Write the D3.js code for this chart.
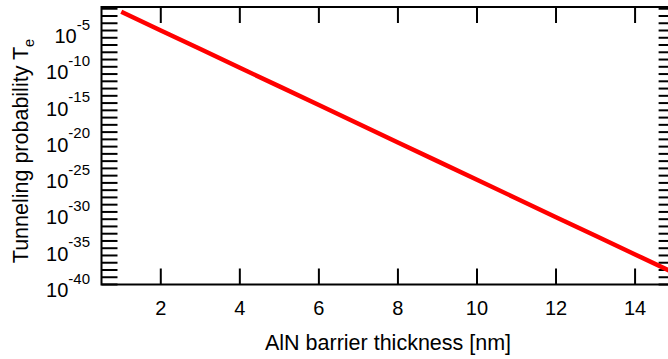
<!DOCTYPE html>
<html>
<head>
<meta charset="utf-8">
<script src="https://cdn.jsdelivr.net/npm/d3@7"></script>
<style>
  body { margin: 0; background: #fff; }
  text { font-family: "Liberation Sans", Arial, sans-serif; fill: #000; }
</style>
</head>
<body>
<svg width="668" height="359"></svg>
<script>
// barrier thickness (nm) and tunneling probability
const thickness = [1, 2, 3, 4, 5, 6, 7, 8, 9, 10, 11, 12, 13, 14, 15];
const probability = [3.9e-3, 1.0e-5, 2.8e-8, 7.4e-11, 2.0e-13, 5.3e-16, 1.4e-18,
  3.8e-21, 1.0e-23, 2.7e-26, 7.2e-29, 1.9e-31, 5.1e-34, 1.4e-36, 3.7e-39];

const xTicks = [2, 4, 6, 8, 10, 12, 14];
const yTickExps = d3.range(-40, -1);          // one tick per decade
const yLabelExps = [-40, -35, -30, -25, -20, -15, -10, -5];

const plot = { left: 101.5, right: 674.6, top: 7, bottom: 284.5 };
const tickLen = 16;

const svg = d3.select("svg");

const x = d3.scaleLinear().domain([0.5, 15]).range([plot.left, plot.right]);
const y = d3.scaleLog().domain([1e-40, Math.pow(10, -1.76)]).range([plot.bottom, plot.top]);

// frame
svg.append("rect")
  .attr("x", plot.left).attr("y", plot.top)
  .attr("width", plot.right - plot.left).attr("height", plot.bottom - plot.top)
  .attr("fill", "none").attr("stroke", "#000").attr("stroke-width", 2);

// x ticks, bottom and top (inward)
const xt = svg.append("g").attr("stroke", "#000").attr("stroke-width", 2);
xTicks.forEach(t => {
  xt.append("line").attr("x1", x(t)).attr("x2", x(t)).attr("y1", plot.bottom).attr("y2", plot.bottom - tickLen);
  xt.append("line").attr("x1", x(t)).attr("x2", x(t)).attr("y1", plot.top).attr("y2", plot.top + tickLen);
});

// y ticks, left and right (inward)
const yt = svg.append("g").attr("stroke", "#000").attr("stroke-width", 2);
yTickExps.forEach(e => {
  const v = Math.pow(10, e);
  yt.append("line").attr("x1", plot.left).attr("x2", plot.left + tickLen).attr("y1", y(v)).attr("y2", y(v));
  yt.append("line").attr("x1", plot.right).attr("x2", plot.right - tickLen).attr("y1", y(v)).attr("y2", y(v));
});

// x tick labels
svg.append("g").selectAll("text")
  .data(xTicks)
  .enter()
  .append("text")
  .attr("x", d => x(d))
  .attr("y", 315)
  .attr("text-anchor", "middle")
  .style("font-size", "20px")
  .text(d => d);

// y tick labels 10^n
const yl = svg.append("g").selectAll("text")
  .data(yLabelExps)
  .enter()
  .append("text")
  .attr("x", 90)
  .attr("y", d => y(Math.pow(10, d)) + 12.5)
  .attr("text-anchor", "end")
  .style("font-size", "20px");
yl.append("tspan").text("10");
yl.append("tspan").attr("dy", -13.5).style("font-size", "15px").text(d => d);

// axis titles
svg.append("text")
  .attr("x", (plot.left + plot.right) / 2)
  .attr("y", 350)
  .attr("text-anchor", "middle")
  .style("font-size", "21.5px")
  .text("AlN barrier thickness [nm]");

const yTitle = svg.append("text")
  .attr("transform", "translate(28.3,151) rotate(-90)")
  .attr("text-anchor", "middle")
  .style("font-size", "21.5px");
yTitle.append("tspan").text("Tunneling probability T");
yTitle.append("tspan").attr("dy", 6).style("font-size", "14.5px").text("e");

// curve
const line = d3.line()
  .x((d, i) => x(thickness[i]))
  .y(d => y(d));

svg.append("path")
  .datum(probability)
  .attr("d", line)
  .attr("fill", "none")
  .attr("stroke", "#f00")
  .attr("stroke-width", 4.5);
</script>
</body>
</html>
